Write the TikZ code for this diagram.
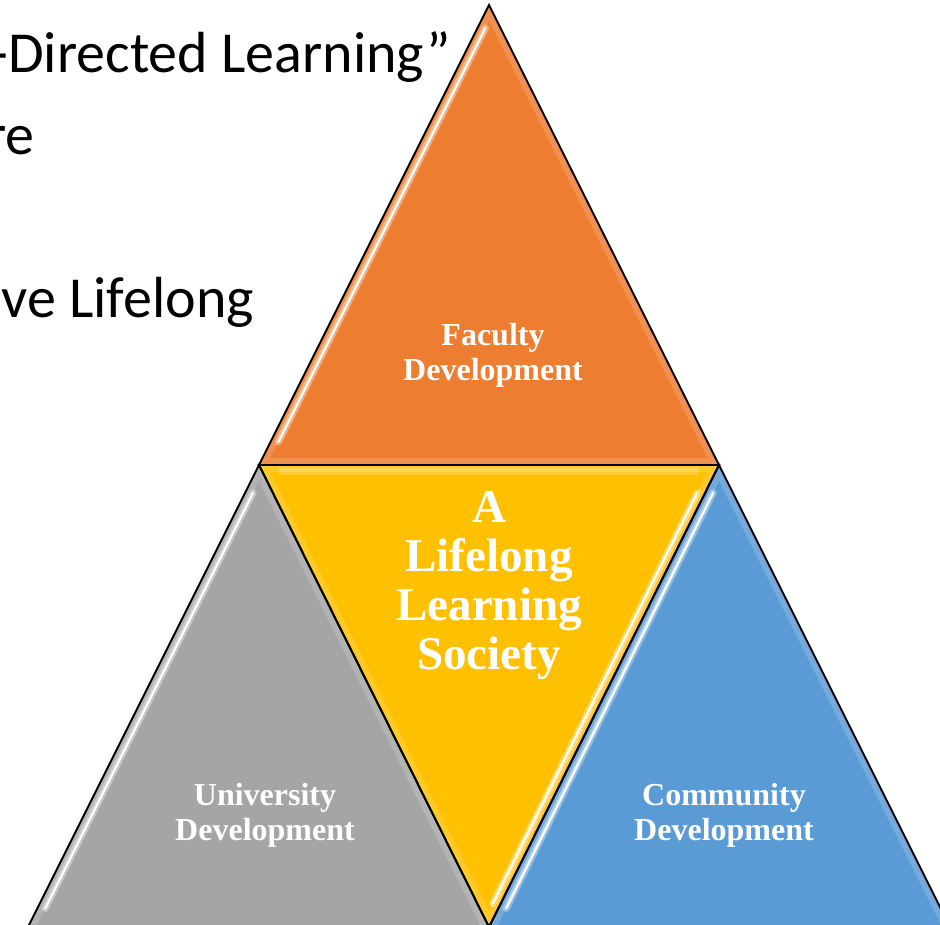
\documentclass[tikz,border=0pt]{standalone}
\usepackage{fontspec}
\setmainfont{Liberation Serif}
\newfontfamily\calibfont{Carlito}
\usetikzlibrary{calc}
\definecolor{orangeF}{HTML}{ED7D31}
\definecolor{yellowF}{HTML}{FFC000}
\definecolor{grayF}{HTML}{A5A5A5}
\definecolor{blueF}{HTML}{5B9BD5}
\tikzset{
  tri/.style={draw=black, line width=1.9pt, line join=miter},
  glow/.style={draw=white, opacity=0.16, line width=14pt},
  hlwide/.style={draw=white, opacity=0.35, line width=7pt, line cap=round},
  hlthin/.style={draw=white, opacity=0.95, line width=2.4pt, line cap=round},
  lbl/.style={text=white, align=center, inner sep=0pt},
  side/.style={font=\calibfont\fontsize{58}{70}\selectfont, inner sep=0pt, anchor=base east}
}
\begin{document}
\begin{tikzpicture}[x=1pt,y=-1pt]
\useasboundingbox (0,0) rectangle (940,925);
\clip (0,0) rectangle (940,925);
\coordinate (A) at (489,5);
\coordinate (ML) at (259,465);
\coordinate (MR) at (719,465);
\coordinate (BL) at (28,927);
\coordinate (BM) at (489,927);
\coordinate (BR) at (950,927);

% side text (clipped at the left edge, as in the reference)
\node[side] (t1) at (451,73) {-Directed Learning”};
\node[side] (t2) at (35,155) {re};
\node[side] (t3) at (254,318) {ve Lifelong};

% orange top triangle
\fill[orangeF] (A) -- (ML) -- (MR) -- cycle;
\begin{scope}
\clip (A) -- (ML) -- (MR) -- cycle;
\draw[glow] (A) -- (ML) -- (MR) -- cycle;
\draw[hlwide] ($(A)!0.05!(ML)+(8,0)$) -- ($(A)!0.95!(ML)+(8,0)$);
\draw[hlthin] ($(A)!0.05!(ML)+(8,0)$) -- ($(A)!0.95!(ML)+(8,0)$);
\end{scope}

% gray left triangle
\fill[grayF] (ML) -- (BL) -- (BM) -- cycle;
\begin{scope}
\clip (ML) -- (BL) -- (BM) -- cycle;
\draw[glow] (BL) -- (ML) -- (BM);
\draw[hlwide] ($(ML)!0.06!(BL)+(8,0)$) -- ($(ML)!0.96!(BL)+(8,0)$);
\draw[hlthin] ($(ML)!0.06!(BL)+(8,0)$) -- ($(ML)!0.96!(BL)+(8,0)$);
\end{scope}

% yellow centre triangle
\fill[yellowF] (ML) -- (MR) -- (BM) -- cycle;
\begin{scope}
\clip (ML) -- (MR) -- (BM) -- cycle;
\draw[glow] (ML) -- (MR) -- (BM) -- cycle;
\draw[draw=white, opacity=0.2, line width=7pt] ($(ML)+(20,6)$) -- ($(MR)+(-20,6)$);
\draw[hlwide] ($(MR)!0.06!(BM)+(-8,0)$) -- ($(MR)!0.95!(BM)+(-8,0)$);
\draw[hlthin] ($(MR)!0.06!(BM)+(-8,0)$) -- ($(MR)!0.95!(BM)+(-8,0)$);
\end{scope}

% blue right triangle
\fill[blueF] (MR) -- (BM) -- (BR) -- cycle;
\begin{scope}
\clip (MR) -- (BM) -- (BR) -- cycle;
\draw[glow] (BM) -- (MR) -- (BR);
\draw[hlwide] ($(MR)!0.06!(BM)+(8,0)$) -- ($(MR)!0.96!(BM)+(8,0)$);
\draw[hlthin] ($(MR)!0.06!(BM)+(8,0)$) -- ($(MR)!0.96!(BM)+(8,0)$);
\end{scope}

% outlines
\draw[tri] (A) -- (ML) -- (MR) -- cycle;
\draw[tri] (ML) -- (BL) -- (BM) -- cycle;
\draw[tri] (ML) -- (MR) -- (BM) -- cycle;
\draw[tri] (MR) -- (BM) -- (BR) -- cycle;

% labels
\node[lbl, font=\bfseries\fontsize{32}{35}\selectfont] (fac) at (493,355) {Faculty\\Development};
\node[lbl, font=\bfseries\fontsize{47}{49}\selectfont] (soc) at (489,586) {A\\Lifelong\\Learning\\Society};
\node[lbl, font=\bfseries\fontsize{32}{35}\selectfont] (uni) at (265,815) {University\\Development};
\node[lbl, font=\bfseries\fontsize{32}{35}\selectfont] (com) at (724,815) {Community\\Development};
\end{tikzpicture}
\end{document}
